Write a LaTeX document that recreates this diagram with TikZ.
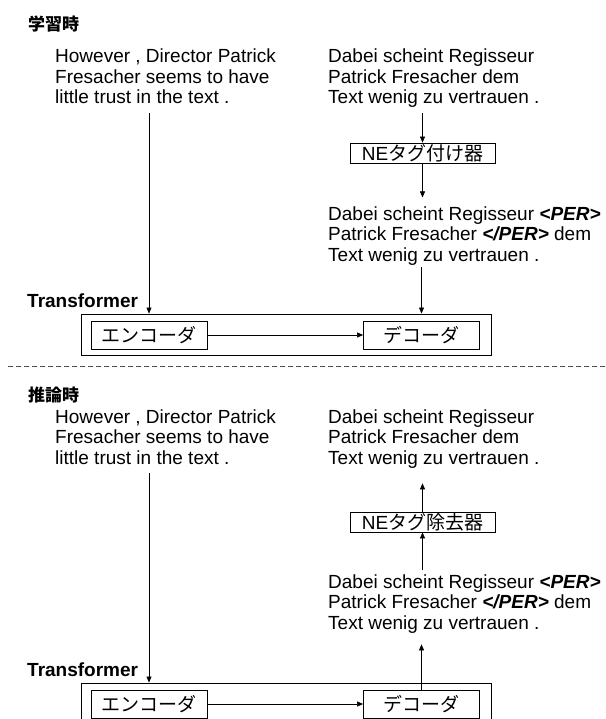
\documentclass[tikz,border=0pt]{standalone}
\usepackage{fontspec}
\setmainfont{Liberation Sans}
\newfontfamily\jp{Noto Sans CJK JP}
\usetikzlibrary{arrows.meta,calc}
\newcommand{\tlines}[1]{\begin{tabular}[t]{@{}l@{}}#1\end{tabular}}
\newcommand{\tg}[1]{\textbf{\textit{#1}}}
\begin{document}
\begin{tikzpicture}[x=1pt,y=-1pt,
  txt/.style={anchor=base west, inner sep=0, font=\fontsize{19}{20.5}\selectfont},
  head/.style={anchor=west, inner sep=0, font=\jp\bfseries\fontsize{17}{17}\selectfont},
  tfm/.style={anchor=base west, inner sep=0, font=\bfseries\fontsize{19}{19}\selectfont},
  box/.style={draw, line width=0.8pt, inner sep=0, font=\fontsize{19}{19}\selectfont},
  outerbox/.style={draw, line width=0.9pt, inner sep=0, minimum width=410, minimum height=41},
  jpbox/.style={box, font=\jp\fontsize{19}{19}\selectfont, minimum width=116, minimum height=28},
  tagbox/.style={box, minimum width=145, minimum height=20},
  arr/.style={line width=0.6pt, -{Triangle[length=6pt,width=5pt]}},
  sep/.style={line width=0.8pt, draw=black!70, dash pattern=on 5pt off 3pt},
  ]
\useasboundingbox (0,0) rectangle (605,719);

% ---------- training ----------
\node[head] (h1) at (28,24) {学習時};
\node[txt] (src1) at (55,63) {\tlines{However , Director Patrick\\Fresacher seems to have\\little trust in the text .}};
\node[txt] (ref1) at (328,63) {\tlines{Dabei scheint Regisseur\\Patrick Fresacher dem\\Text wenig zu vertrauen .}};
\node[tagbox] (tag1) at (422.5,153) {NE{\jp タグ付け器}};
\node[txt] (tagged1) at (328,220) {\tlines{Dabei scheint Regisseur \tg{<PER>}\\Patrick Fresacher \tg{</PER>} dem\\Text wenig zu vertrauen .}};
\node[tfm] (tf1) at (27,307) {Transformer};
\node[outerbox] (out1) at (286,334.5) {};
\node[jpbox] (enc1) at (149,335) {エンコーダ};
\node[jpbox] (dec1) at (421.5,335) {デコーダ};

\draw[arr] ($(src1.south -| enc1.north)+(0,3)$) -- (enc1 |- out1.north);
\draw[arr] ($(ref1.south -| tag1.north)+(0,3)$) -- (tag1.north);
\draw[arr] (tag1.south) -- ($(tagged1.north -| tag1.south)+(0,-8)$);
\draw[arr] ($(tagged1.south -| dec1.north)+(0,0)$) -- (dec1 |- out1.north);
\draw[arr] (enc1.east) -- (dec1.west);

% ---------- separator ----------
\coordinate (dl) at (8,366);
\coordinate (dr) at (605,366);
\draw[sep] (dl) -- (dr);

% ---------- inference ----------
\node[head] (h2) at (28,395) {推論時};
\node[txt] (src2) at (55,423) {\tlines{However , Director Patrick\\Fresacher seems to have\\little trust in the text .}};
\node[txt] (ref2) at (328,423) {\tlines{Dabei scheint Regisseur\\Patrick Fresacher dem\\Text wenig zu vertrauen .}};
\node[tagbox] (rem2) at (422.5,522) {NE{\jp タグ除去器}};
\node[txt] (tagged2) at (328,588) {\tlines{Dabei scheint Regisseur \tg{<PER>}\\Patrick Fresacher \tg{</PER>} dem\\Text wenig zu vertrauen .}};
\node[tfm] (tf2) at (27,676) {Transformer};
\node[outerbox] (out2) at (286,703.5) {};
\node[jpbox] (enc2) at (149,704) {エンコーダ};
\node[jpbox] (dec2) at (421.5,704) {デコーダ};

\draw[arr] ($(src2.south -| enc2.north)+(0,3)$) -- (enc2 |- out2.north);
\draw[arr] (rem2.north) -- ($(ref2.south -| rem2.north)+(0,13)$);
\draw[arr] ($(tagged2.north -| rem2.south)+(0,-3)$) -- (rem2.south);
\draw[arr] (dec2.north) -- ($(tagged2.south -| dec2.north)+(0,9)$);
\draw[arr] (enc2.east) -- (dec2.west);
\end{tikzpicture}
\end{document}
